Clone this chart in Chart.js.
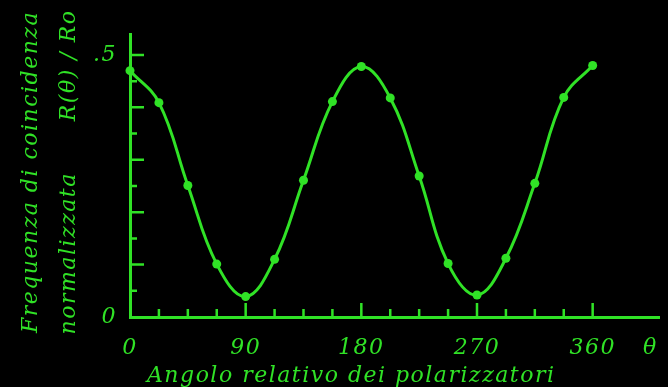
<!DOCTYPE html>
<html>
<head>
<meta charset="utf-8">
<script src="https://cdn.jsdelivr.net/npm/chart.js@4/dist/chart.umd.min.js"></script>
<style>
  html, body { margin: 0; padding: 0; background: #000; }
</style>
</head>
<body>
<canvas id="chart" width="668" height="387"></canvas>
<script>
// polarizer angle (deg) and normalized coincidence rate
var angles = [0, 22.5, 45, 67.5, 90, 112.5, 135, 157.5, 180, 202.5, 225, 247.5, 270, 292.5, 315, 337.5, 360];
var rates  = [0.470, 0.409, 0.251, 0.101, 0.039, 0.110, 0.261, 0.411, 0.478, 0.418, 0.269, 0.102, 0.042, 0.112, 0.255, 0.419, 0.480];
var xLabels = [0, 90, 180, 270, 360];
var yLabels = [0, 0.5];
var yTitle = ['Frequenza di coincidenza', 'normalizzata      R(θ) / Ro'];

var green = 'rgb(48, 226, 38)';
var font = 'DejaVu Serif';

var points = angles.map(function (a, i) { return { x: a, y: rates[i] }; });

// the lettering in the scan is widely spaced
var spacing = {
    id: 'spacing',
    beforeUpdate: function (chart) { chart.ctx.letterSpacing = '1.5px'; },
    beforeDraw: function (chart) { chart.ctx.letterSpacing = '1.5px'; }
};

// small inward tick marks along both axes + rotated y title (too long for the scale's own title)
var innerTicks = {
    id: 'innerTicks',
    afterDatasetsDraw: function (chart) {
        var ctx = chart.ctx;
        var xs = chart.scales.x, ys = chart.scales.y;
        var area = chart.chartArea;
        ctx.save();
        ctx.strokeStyle = green;
        ctx.lineWidth = 2.5;
        ctx.beginPath();
        for (var a = 22.5; a <= 360; a += 22.5) {
            var px = xs.getPixelForValue(a);
            var len = (a % 90 === 0) ? 14 : 8;
            ctx.moveTo(px, area.bottom);
            ctx.lineTo(px, area.bottom - len);
        }
        for (var k = 1; k <= 10; k++) {
            var py = ys.getPixelForValue(k * 0.05);
            var l = (k % 2 === 0) ? 14 : 7;
            ctx.moveTo(area.left, py);
            ctx.lineTo(area.left + l, py);
        }
        ctx.stroke();

        ctx.fillStyle = green;
        ctx.font = 'italic 22px "' + font + '"';
        ctx.letterSpacing = '1.5px';
        ctx.textAlign = 'center';
        ctx.textBaseline = 'middle';
        ctx.translate(0, 172);
        ctx.rotate(-Math.PI / 2);
        ctx.fillText(yTitle[0], 0, 31);
        ctx.fillText(yTitle[1], 0, 69);
        ctx.restore();
    }
};

new Chart(document.getElementById('chart'), {
    type: 'line',
    data: {
        datasets: [{
            data: points,
            borderColor: green,
            backgroundColor: green,
            borderWidth: 3,
            pointRadius: 4.5,
            pointBackgroundColor: green,
            pointBorderWidth: 0,
            tension: 0.4,
            clip: false
        }]
    },
    options: {
        responsive: false,
        animation: false,
        layout: { padding: { top: 34, right: 8, left: 0, bottom: 0 } },
        plugins: { legend: { display: false }, tooltip: { enabled: false } },
        scales: {
            x: {
                type: 'linear',
                min: 0,
                max: 412,
                grid: { display: false },
                border: { display: true, color: green, width: 3 },
                afterBuildTicks: function (scale) {
                    scale.ticks = xLabels.map(function (v) { return { value: v }; }).concat([{ value: 405 }]);
                },
                afterFit: function (scale) { scale.height = 70; },
                ticks: {
                    color: green,
                    padding: 10,
                    maxRotation: 0,
                    autoSkip: false,
                    font: { family: font, style: 'italic', size: 22 },
                    callback: function (v) { return v === 405 ? 'θ' : String(v); }
                },
                title: {
                    display: true,
                    text: '  Angolo relativo dei polarizzatori',
                    align: 'start',
                    color: green,
                    padding: { top: 0, bottom: 0 },
                    font: { family: font, style: 'italic', size: 22, lineHeight: 1 }
                }
            },
            y: {
                min: 0,
                max: 0.54,
                grid: { display: false },
                border: { display: true, color: green, width: 3 },
                afterBuildTicks: function (scale) {
                    scale.ticks = yLabels.map(function (v) { return { value: v }; });
                },
                afterFit: function (scale) { scale.width = 130; },
                ticks: {
                    color: green,
                    padding: 5,
                    font: { family: font, style: 'italic', size: 22 },
                    callback: function (v) { return v === 0 ? '0' : '.5'; }
                }
            }
        }
    },
    plugins: [spacing, innerTicks]
});
</script>
</body>
</html>
